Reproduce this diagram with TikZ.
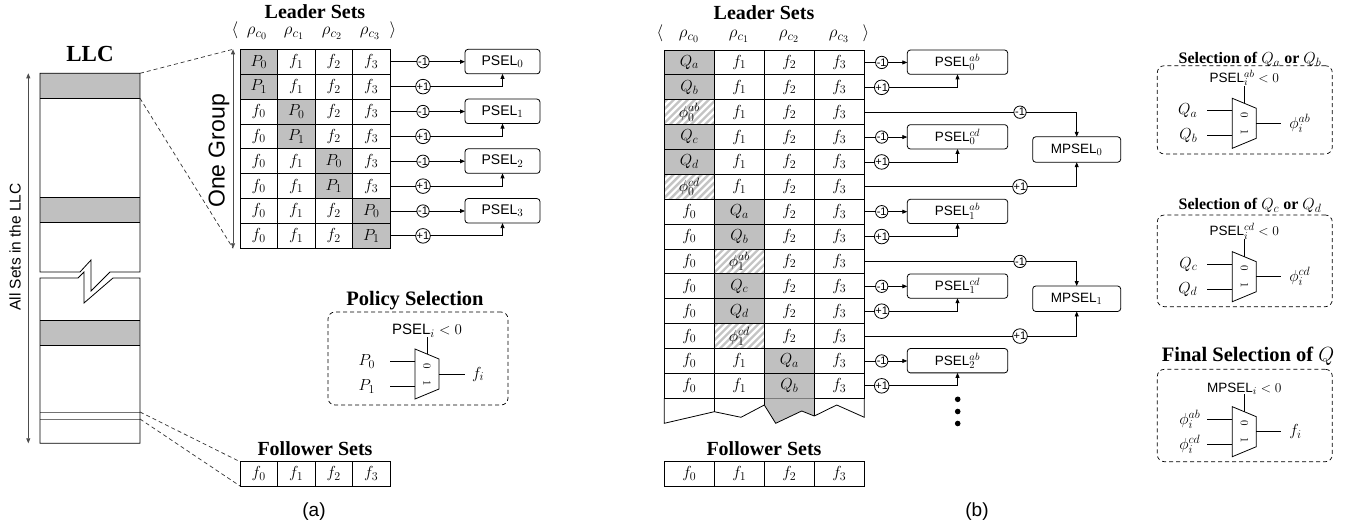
\RequirePackage{fix-cm}
\documentclass[tikz,border=0pt]{standalone}
\usepackage[no-math]{fontspec}
\setmainfont{Liberation Serif}
\setsansfont{Liberation Sans}
\usetikzlibrary{arrows.meta,calc}
\definecolor{cellgray}{RGB}{192,192,192}
\definecolor{hatchgray}{RGB}{196,196,196}
\newcommand\fsz[1]{\fontsize{#1}{#1}\selectfont}
\DeclareMathSizes{17}{17}{13}{10}
\DeclareMathSizes{16}{16}{12}{9.5}
\DeclareMathSizes{15}{15}{11.5}{9}
\DeclareMathSizes{14}{14}{11}{8.5}
\DeclareMathSizes{13.5}{13.5}{10.5}{8}
\DeclareMathSizes{16.5}{16.5}{12.5}{10}
\DeclareMathSizes{20.5}{20.5}{15}{11}
\DeclareMathSizes{11}{11}{8.5}{7}
\begin{document}
\begin{tikzpicture}[x=1pt,y=-1pt,
  every node/.style={inner sep=0pt, outer sep=0pt},
  ln/.style={line width=0.8pt},
  arr/.style={-{Triangle[length=5pt,width=4pt]}},
  dbl/.style={{Triangle[length=5pt,width=4pt]}-{Triangle[length=5pt,width=4pt]}, line width=0.7pt, draw=black!70},
  dsh/.style={dashed, dash pattern=on 4pt off 3pt, line width=0.7pt, draw=black!80},
  cellA/.style={draw, line width=0.8pt, minimum width=37.5pt, minimum height=24.875pt, font=\fsz{16}},
  cellB/.style={cellA, minimum width=50pt},
  hatch/.style={path picture={
    \foreach \hx in {-84,-77,...,84}
      \draw[line width=2.3pt, hatchgray] ($(path picture bounding box.center)+(\hx pt,0pt)+(-30pt,-30pt)$) -- ++(60pt,60pt);}},
  ttl/.style={font=\bfseries\fsz{20}, anchor=base},
  hdr/.style={font=\fsz{17}, anchor=base},
  circ/.style={circle, draw, line width=0.8pt, minimum size=12pt, font=\sffamily\fsz{11}},
  pselA/.style={draw, line width=0.8pt, rounded corners=3pt, minimum width=75pt, minimum height=24.5pt, font=\sffamily\fsz{14}},
  pselB/.style={pselA, minimum width=100.4pt, minimum height=24.3pt, font=\sffamily\fsz{13.5}},
  selframe/.style={draw, dashed, dash pattern=on 4pt off 3pt, rounded corners=7pt, line width=0.7pt},
  inlbl/.style={font=\fsz{16}},
  seltxt/.style={font=\sffamily\fsz{13.5}, anchor=south},
  dotnode/.style={circle, fill=black, minimum size=5.6pt},
  mux/.pic={
    \draw[line width=0.8pt] (0,0) -- (24,10) -- (24,40) -- (0,50) -- cycle;
    \node[rotate=-90, font=\fsz{11}] at (12,17) {$0$};
    \node[rotate=-90, font=\fsz{11}] at (12,34) {$1$};
    \coordinate (-in0) at (0,12.5);
    \coordinate (-in1) at (0,37.5);
    \coordinate (-out) at (24,25);
    \coordinate (-sel) at (12,5);
  }
]
\useasboundingbox (0,0) rectangle (1364,529);

% ---------------- (a) the LLC column ----------------
\node[font=\bfseries\fsz{23}, anchor=base] (llctitle) at (90,61.7) {LLC};
\fill[cellgray] (40,73.3) rectangle (140,98.3);
\fill[cellgray] (40,197) rectangle (140,222);
\fill[cellgray] (40,320) rectangle (140,345);
\draw[ln] (40,98.3) -- (140,98.3) (40,197) -- (140,197) (40,222) -- (140,222)
          (40,320) -- (140,320) (40,345) -- (140,345);
\draw[line width=0.8pt, black!55] (40,412) -- (140,412) (40,419) -- (140,419);
% upper block with the break
\draw[ln] (40,272) -- (40,73.3) -- (140,73.3) -- (140,272) -- (110,272) -- (91,291)
          -- (91,260) -- (80,272) -- cycle;
% lower block with the break
\draw[ln] (40,278) -- (78,278) -- (84,272) -- (84,303) -- (113,278) -- (140,278)
          -- (140,443.3) -- (40,443.3) -- cycle;
\coordinate (llc-t0) at (140,73.3);
\coordinate (llc-t1) at (140,98.3);
\coordinate (llc-f0) at (140,412);
\coordinate (llc-f1) at (140,419);
\coordinate (all-top) at (28.3,73.3);
\coordinate (all-bot) at (28.3,443.3);
\draw[dbl] (all-top) -- (all-bot);
\node[rotate=90, font=\sffamily\fsz{15.5}] (alllbl) at (15,247) {All Sets in the LLC};

% ---------------- (a) leader sets ----------------
\node[ttl] (leadA) at (315,18.5) {Leader Sets};
\node[hdr] (hA0) at (235,35) {$\langle$};
\node[hdr] (hA1) at (257,35) {$\rho_{c_0}$};
\node[hdr] (hA2) at (294,35) {$\rho_{c_1}$};
\node[hdr] (hA3) at (332,35) {$\rho_{c_2}$};
\node[hdr] (hA4) at (370,35) {$\rho_{c_3}$};
\node[hdr] (hA5) at (393,35) {$\rangle$};

\foreach \rw in {0,...,7}{
  \pgfmathtruncatemacro\gi{\rw/2}
  \pgfmathtruncatemacro\pv{mod(\rw,2)}
  \foreach \cl in {0,...,3}{
    \ifnum\cl=\gi
      \node[cellA, fill=cellgray] (A-\rw-\cl) at ({258.75+37.5*\cl},{61.74+24.875*\rw}) {$P_{\pv}$};
    \else
      \node[cellA] (A-\rw-\cl) at ({258.75+37.5*\cl},{61.74+24.875*\rw}) {$f_{\cl}$};
    \fi
  }
}

\coordinate (og-top) at (233,49.3);
\coordinate (og-bot) at (233,248.3);
\draw[dbl] (og-top) -- (og-bot);
\node[rotate=90, font=\sffamily\fsz{23}] (oglbl) at (219,151) {One Group};
\draw[dsh] (llc-t0) -- (og-top);
\draw[dsh] (llc-t1) -- (og-bot);

\foreach \ii in {0,...,3}{
  \pgfmathtruncatemacro\ra{2*\ii}
  \pgfmathtruncatemacro\rb{2*\ii+1}
  \node[circ] (Am-\ii) at (423,{61.74+24.875*\ra}) {-1};
  \node[circ] (Ap-\ii) at (423,{61.74+24.875*\rb}) {+1};
  \node[pselA] (P-\ii) at (502.5,{61.6+49.75*\ii}) {PSEL$_{\ii}$};
  \draw[ln] (A-\ra-3.east) -- (Am-\ii);
  \draw[ln,arr] (Am-\ii) -- (Am-\ii -| P-\ii.west);
  \draw[ln] (A-\rb-3.east) -- (Ap-\ii);
  \draw[ln,arr] (Ap-\ii) -| (P-\ii.south);
}

% policy selection
\node[ttl, font=\bfseries\fsz{20.5}] (poltitle) at (415,305) {Policy Selection};
\node[selframe, minimum width=180pt, minimum height=93pt] (polbox) at (418,358.5) {};
\pic (muxA) at (415,349) {mux};
\draw[ln] (muxA-sel) -- ++(0,-17) node[seltxt, font=\sffamily\fsz{15}] {PSEL$_i$ $<0$};
\draw[ln] (muxA-in0) -- ++(-25,0) node[inlbl, left=15pt] {$P_0$};
\draw[ln] (muxA-in1) -- ++(-25,0) node[inlbl, left=15pt] {$P_1$};
\draw[ln] (muxA-out) -- ++(26,0) node[inlbl, right=7pt] {$f_i$};

% follower sets (a)
\node[ttl] (follA) at (315,455) {Follower Sets};
\foreach \cl in {0,...,3}
  \node[cellA, minimum height=24.3pt] (FA-\cl) at ({258.75+37.5*\cl},473.85) {$f_{\cl}$};
\draw[dsh] (llc-f0) -- (FA-0.north west);
\draw[dsh] (llc-f1) -- (FA-0.south west);
\node[font=\sffamily\fsz{19}] (capA) at (314,512) {(a)};

% ---------------- (b) leader sets ----------------
\node[ttl] (leadB) at (764,19.5) {Leader Sets};
\node[hdr] (hB0) at (660,38) {$\langle$};
\node[hdr] (hB1) at (689,38) {$\rho_{c_0}$};
\node[hdr] (hB2) at (739,38) {$\rho_{c_1}$};
\node[hdr] (hB3) at (789,38) {$\rho_{c_2}$};
\node[hdr] (hB4) at (839,38) {$\rho_{c_3}$};
\node[hdr] (hB5) at (866,38) {$\rangle$};

\foreach \rw in {0,...,13}{
  \pgfmathtruncatemacro\gi{\rw/6}
  \pgfmathtruncatemacro\kk{mod(\rw,6)}
  \foreach \cl in {0,...,3}{
    \ifnum\cl=\gi
      \ifnum\kk=2
        \node[cellB, hatch] (B-\rw-\cl) at ({689.3+50*\cl},{62.44+24.875*\rw}) {$\phi_{\gi}^{ab}$};
      \else\ifnum\kk=5
        \node[cellB, hatch] (B-\rw-\cl) at ({689.3+50*\cl},{62.44+24.875*\rw}) {$\phi_{\gi}^{cd}$};
      \else
        \node[cellB, fill=cellgray] (B-\rw-\cl) at ({689.3+50*\cl},{62.44+24.875*\rw}) {$Q_{\ifcase\kk a\or b\or \or c\or d\fi}$};
      \fi\fi
    \else
      \node[cellB] (B-\rw-\cl) at ({689.3+50*\cl},{62.44+24.875*\rw}) {$f_{\cl}$};
    \fi
  }
}

% torn-off bottom of the table
\coordinate (z0) at (664.3,423.3);
\coordinate (z1) at (714.3,411.7);
\coordinate (z2) at (741,417.3);
\coordinate (z3) at (764.3,405);
\coordinate (z4) at (775.7,423.3);
\coordinate (z5) at (801.7,411);
\coordinate (z6) at (814.3,416);
\coordinate (z7) at (836.7,405);
\coordinate (z8) at (864.3,417.3);
\fill[cellgray] (B-13-2.south west) -- (B-13-2.south east) -- (z6) -- (z5) -- (z4) -- (z3) -- cycle;
\draw[ln] (B-13-0.south west) -- (z0) -- (z1) -- (z2) -- (z3) -- (z4) -- (z5) -- (z6) -- (z7) -- (z8) -- (B-13-3.south east);
\draw[ln] (B-13-1.south west) -- (z1);
\draw[ln] (B-13-2.south west) -- (z3);
\draw[ln] (B-13-3.south west) -- (z6);

% PSEL counters of (b)
\foreach \ra/\nn/\lbl [count=\q] in {0/0/ab,3/0/cd,6/1/ab,9/1/cd,12/2/ab}{
  \pgfmathtruncatemacro\rb{\ra+1}
  \node[circ] (Bm-\q) at (881.7,{62.44+24.875*\ra}) {-1};
  \node[circ] (Bp-\q) at (881.7,{62.44+24.875*\rb}) {+1};
  \node[pselB] (Q-\q) at (957.5,{62.2+24.875*\ra}) {PSEL$^{\lbl}_{\nn}$};
  \draw[ln] (B-\ra-3.east) -- (Bm-\q);
  \draw[ln,arr] (Bm-\q) -- (Bm-\q -| Q-\q.west);
  \draw[ln] (B-\rb-3.east) -- (Bp-\q);
  \draw[ln,arr] (Bp-\q) -| (Q-\q.south);
}

% MPSEL counters
\foreach \ii in {0,1}{
  \pgfmathtruncatemacro\ra{2+6*\ii}
  \pgfmathtruncatemacro\rb{5+6*\ii}
  \node[pselB, minimum width=88pt, minimum height=25.4pt] (M-\ii) at (1076.7,{149.5+149.25*\ii}) {MPSEL$_{\ii}$};
  \node[circ] (Mm-\ii) at (1020,{62.44+24.875*\ra}) {-1};
  \node[circ] (Mp-\ii) at (1020,{62.44+24.875*\rb}) {+1};
  \draw[ln] (B-\ra-3.east) -- (Mm-\ii);
  \draw[ln,arr] (Mm-\ii) -| (M-\ii.north);
  \draw[ln] (B-\rb-3.east) -- (Mp-\ii);
  \draw[ln,arr] (Mp-\ii) -| (M-\ii.south);
}

\node[dotnode] (dt0) at (957.7,399.3) {};
\node[dotnode] (dt1) at (957.7,411.5) {};
\node[dotnode] (dt2) at (957.7,423.5) {};

% follower sets (b)
\node[ttl] (follB) at (764,455) {Follower Sets};
\foreach \cl in {0,...,3}
  \node[cellB, minimum height=24.3pt] (FB-\cl) at ({689.3+50*\cl},473.85) {$f_{\cl}$};
\node[font=\sffamily\fsz{19}] (capB) at (977,512) {(b)};

% ---------------- (b) selection logic ----------------
\node[ttl, font=\bfseries\fsz{16}] (t1) at (1250,64) {Selection of $Q_a$ or $Q_b$};
\node[selframe, minimum width=175pt, minimum height=88.3pt] (sb1) at (1244.8,109.85) {};
\pic (mx1) at (1232.3,98.3) {mux};
\draw[ln] (mx1-sel) -- ++(0,-17.3) node[seltxt] {PSEL$^{ab}_i$ $<0$};
\draw[ln] (mx1-in0) -- ++(-25,0) node[inlbl, left=10pt] {$Q_a$};
\draw[ln] (mx1-in1) -- ++(-25,0) node[inlbl, left=10pt] {$Q_b$};
\draw[ln] (mx1-out) -- ++(25,0) node[inlbl, right=8pt] {$\phi_i^{ab}$};

\node[ttl, font=\bfseries\fsz{16}] (t2) at (1250,210) {Selection of $Q_c$ or $Q_d$};
\node[selframe, minimum width=175pt, minimum height=91.7pt] (sb2) at (1244.8,260.85) {};
\pic (mx2) at (1232.3,251.7) {mux};
\draw[ln] (mx2-sel) -- ++(0,-17.3) node[seltxt] {PSEL$^{cd}_i$ $<0$};
\draw[ln] (mx2-in0) -- ++(-25,0) node[inlbl, left=10pt] {$Q_c$};
\draw[ln] (mx2-in1) -- ++(-25,0) node[inlbl, left=10pt] {$Q_d$};
\draw[ln] (mx2-out) -- ++(25,0) node[inlbl, right=8pt] {$\phi_i^{cd}$};

\node[ttl, font=\bfseries\fsz{20.5}] (t3) at (1248,361) {Final Selection of $Q$};
\node[selframe, minimum width=175pt, minimum height=92.4pt] (sb3) at (1244.8,415.5) {};
\pic (mx3) at (1232.3,406.7) {mux};
\draw[ln] (mx3-sel) -- ++(0,-17.3) node[seltxt] {MPSEL$_i$ $<0$};
\draw[ln] (mx3-in0) -- ++(-25,0) node[inlbl, left=7pt] {$\phi_i^{ab}$};
\draw[ln] (mx3-in1) -- ++(-25,0) node[inlbl, left=7pt] {$\phi_i^{cd}$};
\draw[ln] (mx3-out) -- ++(25,0) node[inlbl, right=8pt] {$f_i$};
\end{tikzpicture}
\end{document}
